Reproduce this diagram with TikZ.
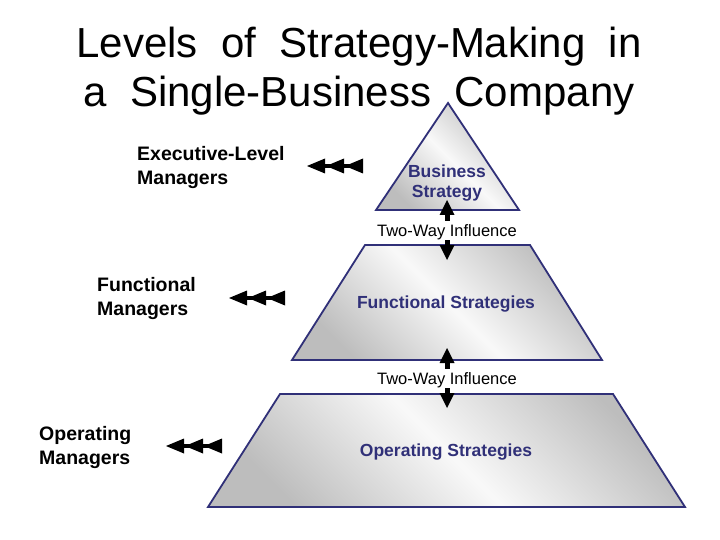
\documentclass[tikz,border=0pt]{standalone}
\usepackage{fontspec}
\setmainfont{Liberation Sans}
\definecolor{navy}{RGB}{48,48,120}
\begin{document}
\begin{tikzpicture}[x=1pt,y=-1pt,
  lvl/.style={draw=navy, line width=1.8pt, line join=miter, top color=gray!52, bottom color=gray!52, middle color=gray!5, shading angle=-45},
  mgr/.style={font=\fontsize{19.5}{24.5}\selectfont\bfseries, align=left, anchor=north west, inner sep=0pt},
  strat/.style={font=\fontsize{17.5}{20.5}\selectfont\bfseries, text=navy, align=center, inner sep=0pt},
  infl/.style={font=\fontsize{16.5}{20}\selectfont, inner sep=0pt},
  ttl/.style={font=\fontsize{42}{49}\selectfont, align=center, inner sep=0pt},
  blk/.style={fill=black},
  stem/.style={draw=black, line width=4pt}
]
\useasboundingbox (0,0) rectangle (720,540);
\fill[white] (0,0) rectangle (720,540);

% title
\node[ttl, anchor=base] (t1) at (359,58) {Levels\ \ of\ \ Strategy-Making\ \ in};
\node[ttl, anchor=base] (t2) at (359,107) {a\ \ Single-Business\ \ Company};

% pyramid levels
\coordinate (ta) at (448,103);
\coordinate (tl) at (376,210);
\coordinate (tr) at (519,210);
\path[lvl] (ta) -- (tr) -- (tl) -- cycle;

\coordinate (m1) at (365,245);
\coordinate (m2) at (530,245);
\coordinate (m3) at (602,360);
\coordinate (m4) at (292,360);
\path[lvl] (m1) -- (m2) -- (m3) -- (m4) -- cycle;

\coordinate (b1) at (280,394);
\coordinate (b2) at (613,394);
\coordinate (b3) at (685,507);
\coordinate (b4) at (208,507);
\path[lvl] (b1) -- (b2) -- (b3) -- (b4) -- cycle;

% strategy labels
\node[strat] (bs) at (447,183) {Business\\Strategy};
\node[strat] (fs) at (446,304) {Functional Strategies};
\node[strat] (os) at (446,452) {Operating Strategies};

% manager labels
\node[mgr] (em) at (137,146) {Executive-Level\\Managers};
\node[mgr] (fm) at (97,277) {Functional\\Managers};
\node[mgr] (om) at (39,426) {Operating\\Managers};

% two-way influence
\node[infl] (i1) at (447,232.5) {Two-Way Influence};
\node[infl] (i2) at (447,380.5) {Two-Way Influence};

% two-way arrows
\foreach \u/\d in {200/260, 348/408}{
  \fill[blk] (447,\u) -- (454.5,\u+15) -- (439.5,\u+15) -- cycle;
  \fill[blk] (444.5,\u+14) rectangle (449.5,\u+21);
  \fill[blk] (447,\d) -- (454.5,\d-15) -- (439.5,\d-15) -- cycle;
  \fill[blk] (444.5,\d-14) rectangle (449.5,\d-20);
}

% triple arrowheads
\coordinate (ea) at (307,166);
\coordinate (fa) at (229,298);
\coordinate (oa) at (166,446);
\foreach \c in {ea,fa,oa}{
  \draw[stem] ([xshift=8pt]\c) -- ++(48,0);
  \foreach \k in {0,19,38}{
    \fill[blk] ([xshift=\k pt]\c) -- ++(18,-7.5) -- ++(0,15) -- cycle;
  }
}
\end{tikzpicture}
\end{document}
